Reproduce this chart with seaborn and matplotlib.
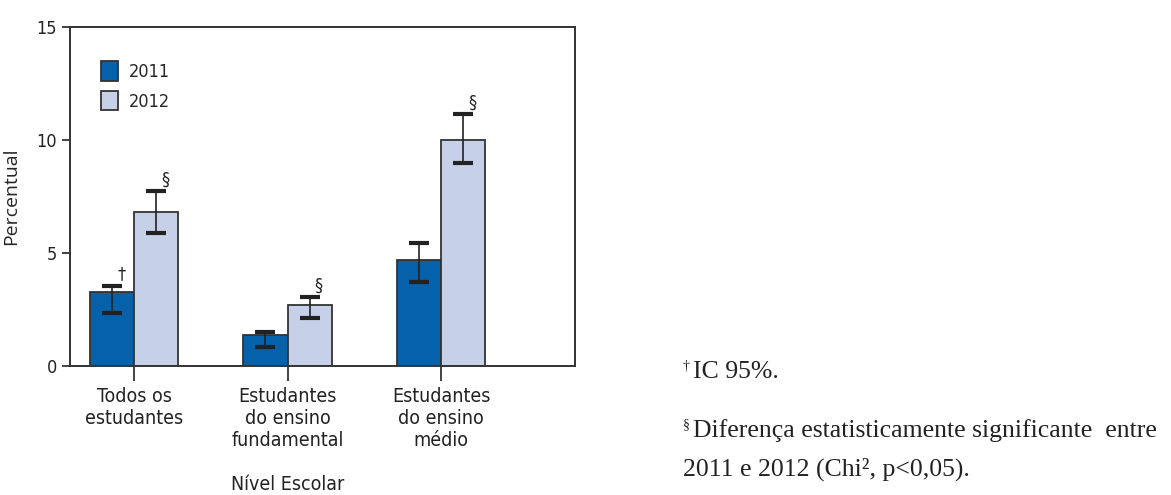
import matplotlib
matplotlib.use('Agg')

import seaborn as sns
import matplotlib.pyplot as plt
import pandas as pd

# dados
categorias = ["Todos os\nestudantes", "Estudantes\ndo ensino\nfundamental", "Estudantes\ndo ensino\nmédio"]
anos = ["2011", "2012"]
perc_2011 = [3.27, 1.39, 4.69]
perc_2012 = [6.81, 2.70, 10.0]
ic_inf_2011 = [2.33, 0.83, 3.70]
ic_sup_2011 = [3.54, 1.50, 5.43]
ic_inf_2012 = [5.88, 2.11, 9.00]
ic_sup_2012 = [7.74, 3.04, 11.14]
marcas_2011 = ["†", "", ""]
marcas_2012 = ["§", "§", "§"]

cores = {"2011": "#0461AA", "2012": "#C6D0E8"}
borda = "#333333"

df = pd.DataFrame({
    "nivel": categorias * 2,
    "ano": ["2011"] * 3 + ["2012"] * 3,
    "perc": perc_2011 + perc_2012,
})

sns.set_style("white")
plt.rcParams['font.family'] = ['DejaVu Sans Condensed', 'DejaVu Sans']
plt.rcParams['font.stretch'] = 'condensed'

fig = plt.figure(figsize=(11.71, 4.95), dpi=100)
ax = fig.add_axes([0.0598, 0.2606, 0.4312, 0.6849])

sns.barplot(data=df, x="nivel", y="perc", hue="ano", palette=cores, saturation=1,
            width=0.574, edgecolor=borda, linewidth=1.3, errorbar=None, ax=ax)

# barras de erro e marcas
limites = [(ic_inf_2011, ic_sup_2011, marcas_2011), (ic_inf_2012, ic_sup_2012, marcas_2012)]
for cont, (inf, sup, marcas) in zip(ax.containers, limites):
    for barra, lo, hi, m in zip(cont, inf, sup, marcas):
        xc = barra.get_x() + barra.get_width() / 2
        v = barra.get_height()
        ax.errorbar(xc, v, yerr=[[v - lo], [hi - v]], fmt='none', ecolor='#222222',
                    elinewidth=1.2, capsize=7, capthick=3, zorder=5)
        if m:
            ax.text(xc + 0.06, hi + 0.12, m, fontsize=13, ha='center', va='bottom',
                    color='#222222')

ax.set_ylim(0, 15)
ax.set_xlim(-0.417, 2.873)
ax.set_yticks([0, 5, 10, 15])
ax.set_xlabel("")
ax.set_ylabel("Percentual", fontsize=14, family=['Open Sans', 'DejaVu Sans'], fontstretch='normal')
ax.yaxis.set_label_coords(-50 / 505, 0.5)
ax.tick_params(axis='y', labelsize=13, length=6, width=1.2, direction='out', left=True, colors='#222222')
ax.tick_params(axis='x', labelsize=14, length=11, width=1.2, direction='out', bottom=True, colors='#222222', pad=4)
for lbl in ax.get_xticklabels():
    lbl.set_linespacing(1.2)
for s in ax.spines.values():
    s.set_color('#333333')
    s.set_linewidth(1.4)

handles, labels = ax.get_legend_handles_labels()
ax.legend(handles, labels, loc='upper left', bbox_to_anchor=(0.03, 0.948), frameon=False,
          fontsize=13, handlelength=0.9, handleheight=1.3, handletextpad=0.6, labelspacing=0.55)

fig.text(288 / 1171, 1 - 485 / 495, "Nível Escolar", fontsize=14, ha='center', va='center', color='#222222')

# notas de rodapé
serif = ['Liberation Serif', 'DejaVu Serif']
fig.text(683 / 1171, 1 - 366 / 495, "†", fontsize=10, family=serif, va='center', color='#222222')
fig.text(693 / 1171, 1 - 372 / 495, "IC 95%.", fontsize=18.5, family=serif, va='center', color='#222222')
fig.text(683 / 1171, 1 - 425 / 495, "§", fontsize=10, family=serif, va='center', color='#222222')
fig.text(693 / 1171, 1 - 431 / 495, "Diferença estatisticamente significante  entre", fontsize=18.5, family=serif, va='center', color='#222222')
fig.text(683 / 1171, 1 - 469 / 495, "2011 e 2012 (Chi², p<0,05).", fontsize=18.5, family=serif, va='center', color='#222222')

fig.savefig("out.png", dpi=100)
